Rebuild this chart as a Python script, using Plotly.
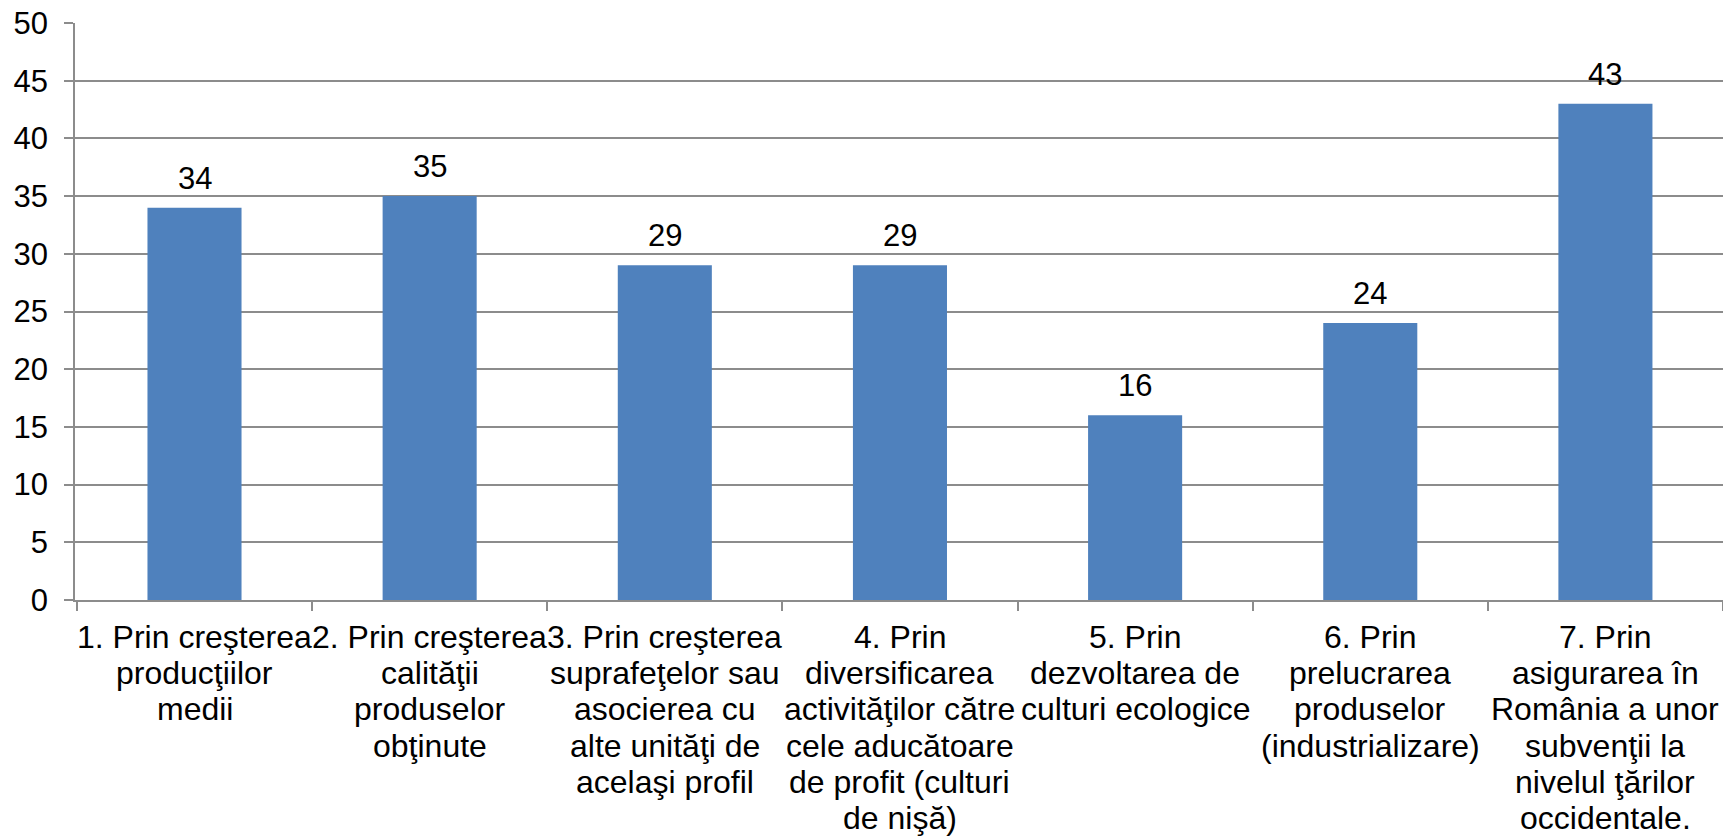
import plotly.graph_objects as go

categories = [
    "1. Prin creşterea<br>producţiilor<br>medii",
    "2. Prin creşterea<br>calităţii<br>produselor<br>obţinute",
    "3. Prin creşterea<br>suprafeţelor sau<br>asocierea cu<br>alte unităţi de<br>acelaşi profil",
    "4. Prin<br>diversificarea<br>activităţilor către<br>cele aducătoare<br>de profit (culturi<br>de nişă)",
    "5. Prin<br>dezvoltarea de<br>culturi ecologice",
    "6. Prin<br>prelucrarea<br>produselor<br>(industrializare)",
    "7. Prin<br>asigurarea în<br>România a unor<br>subvenţii la<br>nivelul ţărilor<br>occidentale.",
]
values = [34, 35, 29, 29, 16, 24, 43]
y_ticks = [0, 5, 10, 15, 20, 25, 30, 35, 40, 45, 50]

FONT = "Liberation Sans, Arial, sans-serif"
GRID = "#8c8c8c"
FS = 31
FS_CAT = 32

fig = go.Figure()
fig.add_trace(go.Bar(
    x=categories, y=values,
    marker=dict(color="#4F81BD", line=dict(width=0)),
    width=0.4,
    hoverinfo="skip",
))

# value labels above bars
for c, v in zip(categories, values):
    fig.add_annotation(x=c, y=v, text=str(v), showarrow=False,
                       yanchor="bottom", yshift=10,
                       font=dict(family=FONT, size=FS, color="black"))

# category labels, one annotation per line for Office-like line spacing
for c in categories:
    for i, line in enumerate(c.split("<br>")):
        fig.add_annotation(x=c, y=0, text=line, showarrow=False,
                           xanchor="center", yanchor="middle",
                           yshift=-(37 + 36.2 * i),
                           font=dict(family=FONT, size=FS_CAT, color="black"))

fig.update_layout(
    width=1723, height=836,
    margin=dict(l=75, r=0, t=23, b=236),
    paper_bgcolor="white", plot_bgcolor="white",
    showlegend=False,
    font=dict(family=FONT, size=FS, color="black"),
)
fig.update_xaxes(
    showline=True, linecolor=GRID, linewidth=1.5,
    ticks="outside", ticklen=9, tickcolor=GRID, tickwidth=1.5,
    tickson="boundaries", showgrid=False,
    showticklabels=False, automargin=False,
)
fig.update_yaxes(
    range=[0, 50], tickvals=y_ticks,
    showline=True, linecolor=GRID, linewidth=1.5,
    ticks="outside", ticklen=9, tickcolor=GRID, tickwidth=1.5,
    showgrid=True, gridcolor=GRID, gridwidth=1.5,
    zeroline=False,
    tickfont=dict(family=FONT, size=FS, color="black"),
    ticklabelstandoff=10, automargin=False,
)

fig.write_html("out.html",
               config={"displayModeBar": False},
               post_script="document.body.style.margin='0px';document.body.style.overflow='hidden';")
